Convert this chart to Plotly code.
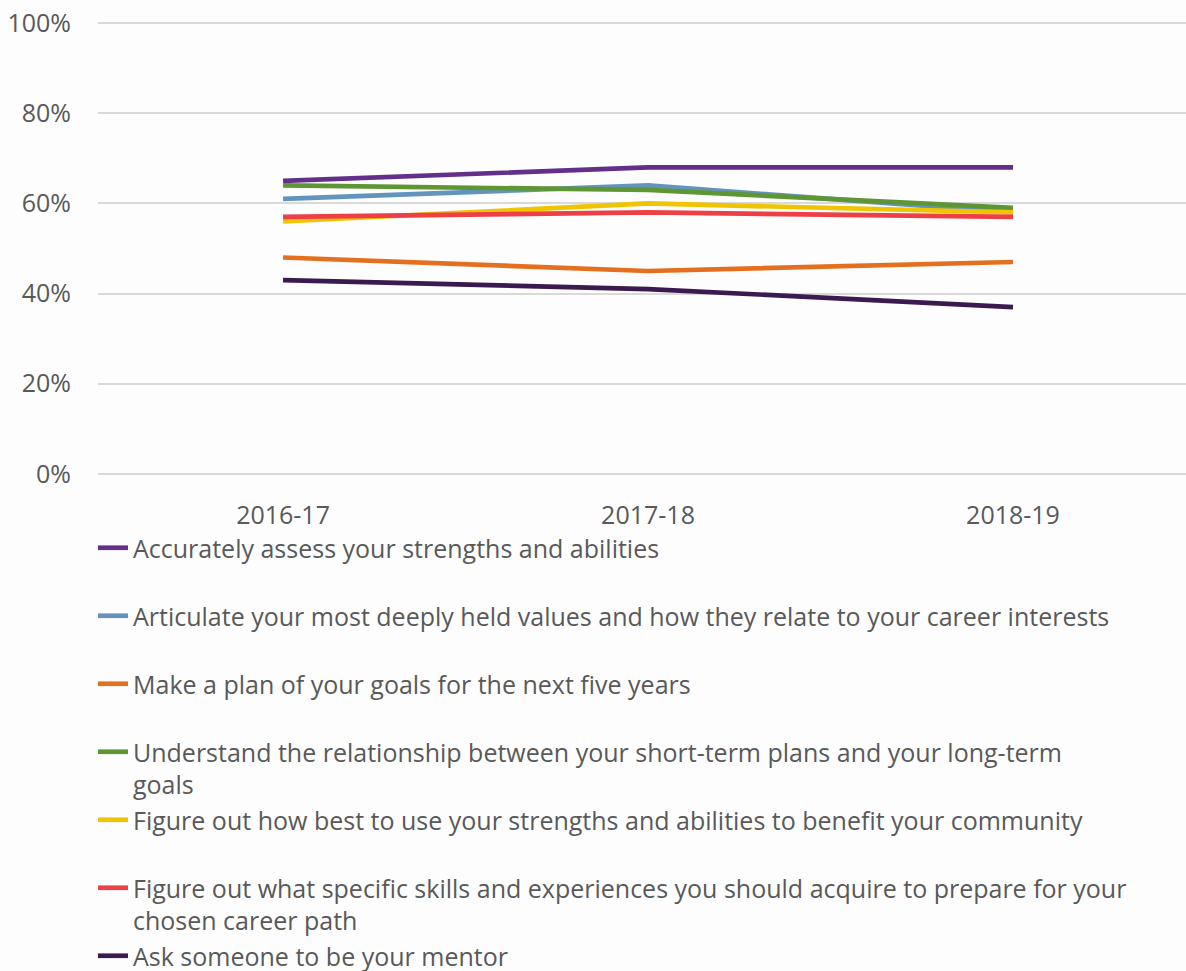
import plotly.graph_objects as go

years = ["2016-17", "2017-18", "2018-19"]

names = [
    "Accurately assess your strengths and abilities",
    "Articulate your most deeply held values and how they relate to your career interests",
    "Make a plan of your goals for the next five years",
    "Understand the relationship between your short-term plans and your long-term<br>goals",
    "Figure out how best to use your strengths and abilities to benefit your community",
    "Figure out what specific skills and experiences you should acquire to prepare for your<br>chosen career path",
    "Ask someone to be your mentor",
]

assess = [65, 68, 68]
articulate = [61, 64, 58]
plan = [48, 45, 47]
understand = [64, 63, 59]
community = [56, 60, 58]
skills = [57, 58, 57]
mentor = [43, 41, 37]

series = [assess, articulate, plan, understand, community, skills, mentor]
colors = ["#62308A", "#6294BE", "#E4701F", "#5E9634", "#F0C400", "#EE3F46", "#3B1A50"]

FONT = "'Open Sans', Lato, sans-serif"
TXT = "#595959"
W, H = 1186, 971

fig = go.Figure()
for name, vals, col in zip(names, series, colors):
    label = name if "<br>" in name else name + "<br>&nbsp;"
    fig.add_trace(go.Scatter(
        x=[0, 1, 2], y=vals, mode="lines", name=label,
        line=dict(color=col, width=4.7),
        hoverinfo="skip",
    ))

fig.update_layout(
    width=W, height=H,
    margin=dict(l=98, r=0, t=20.75, b=H - 20.75 - 455, autoexpand=False),
    paper_bgcolor="#FDFDFD", plot_bgcolor="#FDFDFD",
    font=dict(family=FONT, size=25, color=TXT),
    showlegend=True,
    legend=dict(
        orientation="v",
        xref="container", yref="container",
        x=93 / W, y=1 - 525 / H, xanchor="left", yanchor="top",
        valign="top", tracegroupgap=0, maxheight=1000,
        font=dict(family=FONT, size=25, color=TXT),
        bgcolor="rgba(0,0,0,0)",
    ),
    xaxis=dict(
        tickmode="array", tickvals=[0, 1, 2], ticktext=years,
        range=[-0.507, 2.474], showgrid=False, zeroline=False,
        showline=False, ticks="", ticklabelstandoff=22,
        tickfont=dict(family=FONT, size=25, color=TXT),
    ),
    yaxis=dict(
        range=[-0.5, 100.5], tickvals=[0, 20, 40, 60, 80, 100],
        ticktext=["0%", "20%", "40%", "60%", "80%", "100%"],
        showgrid=True, gridcolor="#D9D9D9", gridwidth=1.5,
        zeroline=False, showline=False, ticks="", ticklabelstandoff=26,
        tickfont=dict(family=FONT, size=25, color=TXT),
    ),
)

fig.write_html("out.html", config={"displayModeBar": False},
               post_script="document.body.style.margin='0';")
